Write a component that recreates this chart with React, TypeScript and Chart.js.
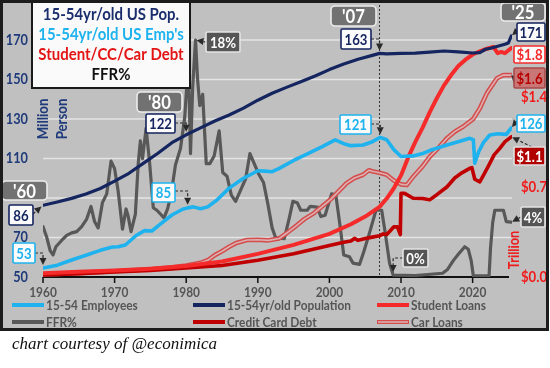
import { useEffect, useRef } from 'react';
import { Chart, registerables } from 'chart.js';
Chart.register(...registerables);

// ---------------- DATA ----------------
const popYears = [1960, 1962, 1964, 1966, 1968, 1970, 1972, 1974, 1976, 1978, 1980, 1982, 1984, 1986, 1988, 1990, 1992, 1994, 1996, 1998, 2000, 2002, 2004, 2006, 2007, 2008, 2010, 2012, 2014, 2016, 2018, 2020, 2021, 2021.8, 2022.5, 2023.5, 2024.5, 2025, 2025.4];
const popValues = [86.3, 88, 89.8, 92, 94.8, 98.5, 102.5, 107.5, 112.5, 118, 122, 125.5, 129, 132, 135.5, 139.5, 143, 146, 148.8, 151.8, 155, 157.8, 160.2, 162.2, 163.2, 163, 163.2, 163.3, 163.8, 164.4, 164, 163.4, 163.6, 165.3, 165.8, 166.8, 167.8, 168.5, 172];

const empYears = [1960, 1962, 1964, 1966, 1968, 1969.7, 1970.5, 1971.5, 1973, 1974.2, 1975.2, 1976.3, 1978, 1979.5, 1980.2, 1981, 1982, 1983, 1984.3, 1986, 1988, 1990, 1991, 1992, 1993, 1995, 1997, 1999, 2000.8, 2002, 2003, 2004.7, 2006, 2007.1, 2008, 2009, 2010, 2011.7, 2013, 2014, 2016.4, 2018, 2019.6, 2020.1, 2020.3, 2020.8, 2021.5, 2022.4, 2023.5, 2024.7, 2025.4];
const empValues = [54.5, 56, 58.6, 61, 63.5, 65.2, 65.3, 66.2, 71, 73.5, 73.3, 76.5, 81.4, 84.3, 85, 85.5, 84.6, 85.5, 89, 95, 100, 103.8, 103.6, 103.3, 105, 109, 112.5, 116, 119.4, 117.5, 116.5, 116.8, 118.5, 120.7, 119.5, 114.5, 111, 111.3, 112.5, 114, 116.8, 118.5, 120.2, 119.5, 107.6, 113, 118, 121.9, 122.5, 122.2, 125.5];

const studentYears = [1960, 1965, 1970, 1975, 1980, 1985, 1990, 1995, 2000, 2003, 2005, 2007, 2008, 2009, 2010, 2011, 2012, 2013, 2014, 2015, 2016, 2017, 2018, 2019, 2020, 2021, 2022, 2022.9, 2023.5, 2024, 2024.5, 2025.4];
const studentValues = [0.03, 0.04, 0.05, 0.065, 0.085, 0.12, 0.18, 0.25, 0.335, 0.41, 0.47, 0.545, 0.61, 0.69, 0.79, 0.93, 1.05, 1.16, 1.28, 1.39, 1.49, 1.57, 1.64, 1.69, 1.73, 1.755, 1.775, 1.79, 1.74, 1.75, 1.74, 1.78];

const ccYears = [1960, 1965, 1970, 1975, 1980, 1985, 1990, 1995, 2000, 2002, 2003, 2003.5, 2004, 2005, 2006, 2007, 2007.5, 2008, 2008.5, 2009, 2009.5, 2009.9, 2010, 2010.5, 2011.7, 2013, 2014, 2015, 2016.4, 2017.5, 2018.5, 2019.6, 2019.9, 2020.3, 2021, 2021.6, 2022.4, 2023, 2023.8, 2024.5, 2025.4];
const ccValues = [0.015, 0.025, 0.04, 0.05, 0.07, 0.09, 0.13, 0.18, 0.245, 0.27, 0.28, 0.3, 0.285, 0.3, 0.31, 0.32, 0.335, 0.33, 0.36, 0.39, 0.39, 0.33, 0.65, 0.65, 0.612, 0.61, 0.6, 0.64, 0.7, 0.77, 0.81, 0.845, 0.85, 0.76, 0.74, 0.8, 0.884, 0.95, 1.0, 1.05, 1.09];

const carYears = [1960, 1965, 1970, 1975, 1978, 1980, 1982, 1983, 1984, 1985, 1986, 1987, 1988.5, 1990, 1991.5, 1993, 1994, 1995.4, 1996.5, 1997.8, 1999, 2000.1, 2001, 2002.4, 2003.5, 2004.7, 2005.5, 2006.1, 2007, 2008, 2009, 2010, 2010.8, 2011.7, 2013, 2014, 2015, 2016.4, 2017.5, 2018.7, 2020.1, 2021, 2022, 2023.4, 2024.3, 2025.4];
const carValues = [0.02, 0.03, 0.045, 0.06, 0.075, 0.09, 0.11, 0.13, 0.17, 0.2, 0.235, 0.265, 0.288, 0.29, 0.285, 0.3, 0.34, 0.4, 0.45, 0.495, 0.55, 0.6, 0.65, 0.73, 0.77, 0.795, 0.83, 0.82, 0.81, 0.795, 0.75, 0.72, 0.715, 0.78, 0.86, 0.935, 0.99, 1.078, 1.13, 1.17, 1.23, 1.31, 1.43, 1.545, 1.57, 1.57];

const ffrYears = [1960, 1960.5, 1961, 1961.4, 1961.8, 1962.6, 1963.3, 1964, 1964.7, 1965.4, 1966.1, 1966.7, 1967.2, 1967.7, 1968.3, 1968.9, 1969.5, 1970, 1970.5, 1971.1, 1971.6, 1971.9, 1972.3, 1972.9, 1973.3, 1973.6, 1973.9, 1974.4, 1974.9, 1975.4, 1975.9, 1976.4, 1976.9, 1977.4, 1977.9, 1978.5, 1979.2, 1979.8, 1980.3, 1980.6, 1980.9, 1981.3, 1981.6, 1981.9, 1982.3, 1982.8, 1983.3, 1983.9, 1984.6, 1985.1, 1985.7, 1986.3, 1986.9, 1987.6, 1988.3, 1988.9, 1989.5, 1990.1, 1990.8, 1991.4, 1992, 1992.5, 1993.7, 1994.4, 1994.9, 1995.5, 1996, 1996.9, 1997.3, 1998.3, 1998.8, 1999.4, 2000.3, 2000.9, 2001.5, 2002, 2002.8, 2003.3, 2004.2, 2004.8, 2005.6, 2006.5, 2007.3, 2007.8, 2008.4, 2008.9, 2012, 2015.8, 2016.5, 2017.3, 2018, 2018.9, 2019.4, 2019.8, 2020.1, 2022.3, 2022.5, 2022.8, 2023.1, 2024.3, 2024.7, 2025.4];
const ffrValues = [4.0, 3.2, 2.1, 1.75, 2.4, 2.9, 3.3, 3.5, 3.6, 4.0, 4.6, 5.6, 4.4, 3.9, 5.9, 6.6, 9.2, 8.6, 6.8, 3.8, 5.4, 4.8, 3.6, 5.0, 9.0, 10.8, 9.4, 11.8, 9.0, 5.5, 5.3, 5.0, 4.7, 5.4, 6.6, 8.9, 10.2, 12.7, 17.2, 9.8, 15.0, 18.8, 15.6, 13.6, 14.5, 9.0, 9.0, 9.6, 11.6, 8.3, 8.0, 6.5, 6.0, 6.9, 7.8, 9.8, 9.0, 8.2, 7.5, 5.8, 3.9, 3.1, 3.05, 4.7, 6.0, 5.9, 5.3, 5.3, 5.6, 5.55, 4.8, 4.9, 6.6, 6.5, 4.0, 1.75, 1.6, 1.1, 1.0, 2.0, 3.5, 5.3, 5.3, 3.5, 1.1, 0.15, 0.12, 0.3, 0.6, 1.3, 1.8, 2.4, 2.2, 1.3, 0.1, 0.1, 2.3, 4.3, 5.3, 5.3, 4.4, 4.35];

const xTicks = [1960, 1970, 1980, 1990, 2000, 2010, 2020];
const leftTicks = [50, 70, 110, 130, 150, 170];
const gridValues = [70, 90, 110, 130, 150, 170];
const rightTicks = [0, 0.7, 1.4];
const rightTickLabels = ['$0.0', '$0.7', '$1.4'];
const titleLines = ['15-54yr/old US Pop.', "15-54yr/old US Emp's", 'Student/CC/Car Debt', 'FFR%'];
const legendLabels = ['15-54 Employees', '15-54yr/old Population', 'Student Loans', 'FFR%', 'Credit Card Debt', 'Car Loans'];

// ---------------- STYLE ----------------
const NAVY = '#14255f';
const BLUE = '#1eb2ee';
const RED = '#f52a2a';
const DRED = '#c00000';
const GRAY = '#585858';
const CAR_OUT = '#d44c4c';
const CAR_IN = '#dcb0b0';
const FONT = 'Lato, "Open Sans", sans-serif';
const SX = 0.88;

const pts = (xs: number[], ys: number[]) => xs.map((x, i) => ({ x, y: ys[i] }));

const series: Record<string, { xs: number[]; ys: number[]; axis: string }> = {
  pop: { xs: popYears, ys: popValues, axis: 'y' },
  emp: { xs: empYears, ys: empValues, axis: 'y' },
  stud: { xs: studentYears, ys: studentValues, axis: 'y2' },
  cc: { xs: ccYears, ys: ccValues, axis: 'y2' },
  car: { xs: carYears, ys: carValues, axis: 'y2' },
  ffr: { xs: ffrYears, ys: ffrValues, axis: 'yF' },
};

type Box = {
  text: string; x: number; y: number; w: number; h: number; style: string;
  arrow?: { ax: number; ay: number; s: string; yr: number; elbow?: boolean; gap?: number };
};

const boxStyles: Record<string, { fill: string; stroke: string; color: string; size: number }> = {
  year: { fill: '#727272', stroke: '#ececec', color: '#ffffff', size: 19 },
  pop: { fill: '#fbfbfb', stroke: NAVY, color: NAVY, size: 15 },
  emp: { fill: '#fbfbfb', stroke: BLUE, color: BLUE, size: 15 },
  ffr: { fill: '#555555', stroke: '#e4e4e4', color: '#ffffff', size: 15 },
  stud: { fill: '#fbfbfb', stroke: RED, color: RED, size: 15 },
  car: { fill: '#c87676', stroke: '#a84a4a', color: '#b80000', size: 15 },
  cc: { fill: '#b00000', stroke: '#e0e0e0', color: '#ffffff', size: 15 },
};

const boxes: Box[] = [
  { text: "'60", x: 2, y: 181, w: 45, h: 19, style: 'year' },
  { text: '86', x: 9, y: 205, w: 24, h: 20, style: 'pop', arrow: { ax: 33, ay: 214, s: 'pop', yr: 1960, gap: 2 } },
  { text: '53', x: 13, y: 243, w: 22, h: 20, style: 'emp', arrow: { ax: 35, ay: 253, s: 'emp', yr: 1960, elbow: true, gap: 3 } },
  { text: "'80", x: 137, y: 92, w: 45, h: 20, style: 'year' },
  { text: '122', x: 146, y: 114, w: 29, h: 19, style: 'pop', arrow: { ax: 175, ay: 123, s: 'pop', yr: 1980, elbow: true, gap: 3 } },
  { text: '85', x: 152, y: 183, w: 23, h: 19, style: 'emp', arrow: { ax: 175, ay: 191, s: 'emp', yr: 1980.2, elbow: true, gap: 3 } },
  { text: '18%', x: 206, y: 32, w: 34, h: 20, style: 'ffr', arrow: { ax: 206, ay: 42, s: 'ffr', yr: 1981.3, gap: 1 } },
  { text: "'07", x: 331, y: 6, w: 45, h: 20, style: 'year' },
  { text: '163', x: 341, y: 29, w: 30, h: 20, style: 'pop', arrow: { ax: 371, ay: 39, s: 'pop', yr: 2007, elbow: true, gap: 3 } },
  { text: '121', x: 340, y: 115, w: 31, h: 19, style: 'emp', arrow: { ax: 371, ay: 124, s: 'emp', yr: 2007.1, elbow: true, gap: 3 } },
  { text: '0%', x: 403, y: 249, w: 25, h: 18, style: 'ffr', arrow: { ax: 403, ay: 258, s: 'ffr', yr: 2008.9, elbow: true, gap: 3 } },
  { text: "'25", x: 501, y: 3, w: 44, h: 18, style: 'year' },
  { text: '171', x: 517, y: 23, w: 28, h: 18, style: 'pop', arrow: { ax: 517, ay: 31, s: 'pop', yr: 2025.4, gap: 1 } },
  { text: '$1.8', x: 514, y: 46, w: 31, h: 17, style: 'stud' },
  { text: '$1.6', x: 514, y: 68, w: 31, h: 20, style: 'car', arrow: { ax: 514, ay: 78, s: 'car', yr: 2025.4, gap: 0 } },
  { text: '126', x: 517, y: 115, w: 28, h: 17, style: 'emp', arrow: { ax: 517, ay: 121, s: 'emp', yr: 2025.4, gap: 1 } },
  { text: '$1.1', x: 514, y: 147, w: 31, h: 18, style: 'cc', arrow: { ax: 532, ay: 147, s: 'cc', yr: 2025.4, gap: 1 } },
  { text: '4%', x: 521, y: 207, w: 24, h: 20, style: 'ffr', arrow: { ax: 521, ay: 217, s: 'ffr', yr: 2025.4, gap: 1 } },
];

function txt(ctx: CanvasRenderingContext2D, s: string, x: number, y: number, size: number, color: string, align: CanvasTextAlign = 'center', sx = SX, weight = 'bold', family = FONT, baseline: CanvasTextBaseline = 'middle') {
  ctx.save();
  ctx.translate(x, y);
  ctx.scale(sx, 1);
  ctx.font = `${weight} ${size}px ${family}`;
  ctx.fillStyle = color;
  ctx.textAlign = align;
  ctx.textBaseline = baseline;
  ctx.fillText(s, 0, 0);
  ctx.restore();
}

function vtxt(ctx: CanvasRenderingContext2D, s: string, x: number, y: number, size: number, color: string) {
  ctx.save();
  ctx.translate(x, y);
  ctx.rotate(-Math.PI / 2);
  ctx.scale(SX, 1);
  ctx.font = `bold ${size}px ${FONT}`;
  ctx.fillStyle = color;
  ctx.textAlign = 'center';
  ctx.textBaseline = 'middle';
  ctx.fillText(s, 0, 0);
  ctx.restore();
}

function seriesPoint(chart: any, key: string, yr: number) {
  const s = series[key];
  let best = 0;
  s.xs.forEach((x, i) => { if (Math.abs(x - yr) < Math.abs(s.xs[best] - yr)) best = i; });
  return { x: chart.scales.x.getPixelForValue(s.xs[best]), y: chart.scales[s.axis].getPixelForValue(s.ys[best]) };
}

function drawArrow(ctx: CanvasRenderingContext2D, chart: any, a: NonNullable<Box['arrow']>) {
  const t = seriesPoint(chart, a.s, a.yr);
  const path: { x: number; y: number }[] = [{ x: a.ax, y: a.ay }];
  if (a.elbow) path.push({ x: t.x, y: a.ay });
  const prev = path[path.length - 1];
  let dx = t.x - prev.x, dy = t.y - prev.y;
  const len = Math.hypot(dx, dy) || 1;
  dx /= len; dy /= len;
  const gap = a.gap ?? 2;
  const tip = { x: t.x - dx * gap, y: t.y - dy * gap };
  const hl = 7, hw = 3.5;
  const base = { x: tip.x - dx * hl, y: tip.y - dy * hl };
  ctx.save();
  ctx.strokeStyle = '#2a2a2a';
  ctx.lineWidth = 1.2;
  ctx.setLineDash([3, 2]);
  ctx.beginPath();
  ctx.moveTo(path[0].x, path[0].y);
  for (let i = 1; i < path.length; i++) ctx.lineTo(path[i].x, path[i].y);
  if (len - gap > hl) ctx.lineTo(base.x, base.y);
  ctx.stroke();
  ctx.setLineDash([]);
  ctx.fillStyle = '#2a2a2a';
  ctx.beginPath();
  ctx.moveTo(tip.x, tip.y);
  ctx.lineTo(base.x - dy * hw, base.y + dx * hw);
  ctx.lineTo(base.x + dy * hw, base.y - dx * hw);
  ctx.closePath();
  ctx.fill();
  ctx.restore();
}

const deco = {
  id: 'deco',
  beforeDraw(chart: any) {
    const ctx: CanvasRenderingContext2D = chart.ctx;
    const { left, right, bottom, top } = chart.chartArea;
    ctx.save();
    ctx.fillStyle = '#ffffff';
    ctx.fillRect(0, 0, chart.width, chart.height);
    ctx.fillStyle = '#c0c0c0';
    ctx.fillRect(0, 0, 549, 330);
    // grid
    ctx.strokeStyle = '#e4e4e4';
    ctx.lineWidth = 1.6;
    gridValues.forEach((v) => {
      const py = chart.scales.y.getPixelForValue(v);
      ctx.beginPath(); ctx.moveTo(left, py); ctx.lineTo(right, py); ctx.stroke();
    });
    // dotted 2007 marker
    const x07 = chart.scales.x.getPixelForValue(2007);
    ctx.strokeStyle = '#333333';
    ctx.lineWidth = 1;
    ctx.setLineDash([2, 2]);
    ctx.beginPath(); ctx.moveTo(x07, top); ctx.lineTo(x07, bottom); ctx.stroke();
    ctx.setLineDash([]);
    // baseline and ticks
    ctx.strokeStyle = '#111111';
    ctx.lineWidth = 2;
    ctx.beginPath(); ctx.moveTo(left, bottom); ctx.lineTo(right - 3, bottom); ctx.stroke();
    ctx.lineWidth = 1.5;
    xTicks.forEach((t) => {
      const px = chart.scales.x.getPixelForValue(t);
      ctx.beginPath(); ctx.moveTo(px, bottom); ctx.lineTo(px, bottom + 6); ctx.stroke();
    });
    ctx.restore();
  },
  afterDatasetsDraw(chart: any) {
    const ctx: CanvasRenderingContext2D = chart.ctx;
    const { bottom } = chart.chartArea;
    ctx.save();
    // axis labels
    xTicks.forEach((t) => txt(ctx, String(t), chart.scales.x.getPixelForValue(t), bottom + 16, 13.5, '#555555'));
    leftTicks.forEach((t) => txt(ctx, String(t), 28, chart.scales.y.getPixelForValue(t), 14.5, '#1f3a7a', 'right'));
    rightTicks.forEach((t, i) => txt(ctx, rightTickLabels[i], 534, chart.scales.y2.getPixelForValue(t), 15, '#f01c1c'));
    vtxt(ctx, 'Million', 43, 119, 15, '#1f3a7a');
    vtxt(ctx, 'Person', 62, 119, 15, '#1f3a7a');
    vtxt(ctx, 'Trillion', 514, 250, 14.5, '#f01c1c');

    // legend
    const cols = [12, 193, 377];
    const rows = [305, 322];
    const legendStyles = [
      { c: BLUE }, { c: NAVY }, { c: RED }, { c: GRAY }, { c: DRED }, { c: CAR_OUT, inner: CAR_IN },
    ];
    legendLabels.forEach((lab, i) => {
      const x = cols[i % 3];
      const y = rows[Math.floor(i / 3)];
      const st: any = legendStyles[i];
      ctx.lineCap = 'butt';
      ctx.strokeStyle = st.c;
      ctx.lineWidth = 4;
      ctx.beginPath(); ctx.moveTo(x, y); ctx.lineTo(x + 32, y); ctx.stroke();
      if (st.inner) {
        ctx.strokeStyle = st.inner;
        ctx.lineWidth = 1.6;
        ctx.beginPath(); ctx.moveTo(x + 1, y); ctx.lineTo(x + 31, y); ctx.stroke();
      }
      txt(ctx, lab, x + 34, y + 1, 13.5, '#555555', 'left');
    });

    // title box
    ctx.fillStyle = '#fafafa';
    ctx.fillRect(32, 2, 158, 86);
    ctx.strokeStyle = '#1a1a1a';
    ctx.lineWidth = 2;
    ctx.strokeRect(32, 2, 158, 86);
    const tColors = ['#1a2e6e', BLUE, '#e41414', '#111111'];
    titleLines.forEach((l, i) => txt(ctx, l, 111, 15 + i * 20, 17, tColors[i]));

    // annotation boxes
    boxes.forEach((b) => {
      const st = boxStyles[b.style];
      if (b.arrow) drawArrow(ctx, chart, b.arrow);
      ctx.beginPath();
      ctx.roundRect(b.x, b.y, b.w, b.h, b.style === 'year' ? 4 : 1.5);
      ctx.fillStyle = st.fill;
      ctx.fill();
      ctx.strokeStyle = st.stroke;
      ctx.lineWidth = 1.6;
      ctx.stroke();
      txt(ctx, b.text, b.x + b.w / 2, b.y + b.h / 2 + 1, st.size, st.color);
    });

    // frame
    ctx.strokeStyle = '#1c1c1c';
    ctx.lineWidth = 3;
    ctx.strokeRect(1.5, 1.5, 546, 328);

    // caption
    txt(ctx, 'chart courtesy of @econimica', 12, 349, 17, '#111111', 'left', 1, 'italic', '"Liberation Serif", serif', 'alphabetic');
    ctx.restore();
  },
};

export default function App() {
  const ref = useRef<HTMLCanvasElement>(null);
  useEffect(() => {
    if (!ref.current) return;
    const line = (label: string, key: string, color: string, width: number, order: number) => ({
      label,
      data: pts(series[key].xs, series[key].ys),
      yAxisID: series[key].axis,
      borderColor: color,
      borderWidth: width,
      pointRadius: 0,
      fill: false,
      order,
    });
    const chart = new Chart(ref.current, {
      type: 'line',
      data: {
        datasets: [
          line('15-54yr/old Population', 'pop', NAVY, 3.2, 0),
          line('15-54 Employees', 'emp', BLUE, 3.6, 1),
          line('Student Loans', 'stud', RED, 4, 2),
          line('Credit Card Debt', 'cc', DRED, 3.6, 3),
          line('Car Loans', 'car', CAR_IN, 1.6, 4),
          line('Car Loans outline', 'car', CAR_OUT, 4.6, 5),
          line('FFR%', 'ffr', GRAY, 3.2, 6),
        ] as any,
      },
      options: {
        responsive: false,
        animation: false,
        devicePixelRatio: 1,
        layout: { padding: { left: 43, top: 5, right: 38, bottom: 91 } },
        elements: { line: { tension: 0, borderJoinStyle: 'round', borderCapStyle: 'round' } },
        plugins: { legend: { display: false }, tooltip: { enabled: false }, title: { display: false } },
        scales: {
          x: { type: 'linear', min: 1960, max: 2025.5, display: false },
          y: { type: 'linear', min: 50, max: 187.7, display: false },
          y2: { type: 'linear', min: 0, max: 2.115, display: false },
          yF: { type: 'linear', min: 0, max: 21.59, display: false },
        },
      } as any,
      plugins: [deco as any],
    });
    return () => chart.destroy();
  }, []);
  return (
    <div style={{ position: 'absolute', left: 0, top: 0, width: 550, height: 368, background: '#fff' }}>
      <canvas ref={ref} width={550} height={368} style={{ display: 'block', width: 550, height: 368 }} />
    </div>
  );
}
